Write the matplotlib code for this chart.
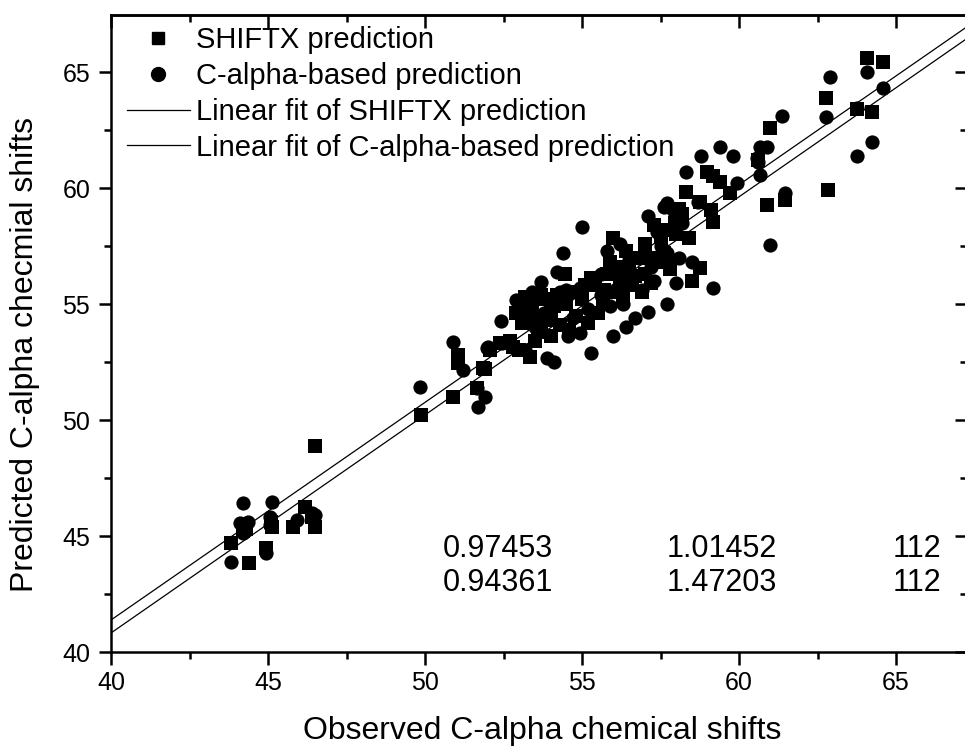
import numpy as np
import matplotlib
matplotlib.use("Agg")
import matplotlib.pyplot as plt
from matplotlib.ticker import MultipleLocator
from matplotlib.lines import Line2D

plt.rcParams['font.family'] = ['Liberation Sans', 'DejaVu Sans']

# SHIFTX prediction (observed, predicted)
shiftx_obs = [43.82, 44.40, 44.94, 45.13, 44.30, 45.80, 46.18, 46.40, 46.50, 46.50, 44.20, 45.10,
              49.87, 50.90, 51.05, 51.05, 51.85, 51.65, 52.07, 52.40, 52.80, 51.90,
              52.90, 53.00, 53.00, 53.35, 53.10, 53.30, 53.50, 53.60, 53.80, 53.90, 54.00, 54.10,
              54.20, 54.30, 54.46, 54.50, 53.20, 53.70, 54.60, 54.80,
              53.40, 53.70, 54.00, 54.30, 53.50, 54.70, 52.70,
              55.00, 55.20, 55.40, 55.50, 55.67, 55.90, 56.00, 56.00, 56.20, 56.30, 56.50, 56.60,
              56.80, 57.00, 57.00, 57.20, 57.40, 57.60, 57.60, 57.80, 57.96, 58.10, 58.30, 58.40,
              58.50, 58.75, 58.76, 58.98, 59.10, 59.17, 59.17, 59.40, 59.70, 58.20, 56.40, 55.80, 57.30,
              55.30, 55.70, 56.10, 56.70, 57.20, 57.50, 58.00, 56.90, 55.10,
              60.60, 60.90, 60.99, 61.46, 62.77, 62.83, 63.76, 64.08, 64.24, 64.58]
shiftx_pred = [44.70, 43.84, 44.50, 45.40, 45.30, 45.40, 46.25, 45.80, 45.40, 48.90, 45.20, 45.60,
               50.20, 51.00, 52.80, 52.46, 52.24, 51.40, 53.00, 53.30, 53.15, 52.20,
               54.60, 55.00, 53.00, 52.70, 54.20, 54.80, 54.50, 53.80, 55.20, 54.30, 53.60, 54.90,
               55.40, 54.10, 56.30, 55.00, 55.30, 54.00, 53.90, 54.50,
               55.10, 55.40, 54.60, 55.00, 53.40, 55.50, 53.40,
               55.20, 54.20, 55.80, 54.60, 55.00, 56.80, 57.85, 55.50, 56.00, 55.20, 56.50, 55.80,
               57.00, 56.30, 57.60, 55.90, 56.80, 58.20, 57.20, 56.50, 58.50, 59.10, 59.83, 57.85,
               56.00, 56.55, 59.40, 60.70, 59.05, 58.53, 60.50, 60.26, 59.80, 58.90, 57.30, 56.30, 58.40,
               56.10, 55.60, 56.60, 56.20, 57.00, 57.90, 58.00, 55.50, 55.80,
               61.20, 59.27, 62.60, 59.50, 63.90, 59.90, 63.40, 65.60, 63.28, 65.43]

# C-alpha-based prediction (observed, predicted)
calpha_obs = [43.82, 44.20, 44.10, 44.36, 44.20, 44.94, 45.13, 45.06, 45.06, 45.92, 46.40, 46.50,
              49.84, 50.90, 51.20, 51.66, 51.90, 51.70, 51.97, 52.42,
              52.45, 52.90, 53.40, 53.70, 54.20, 54.40, 53.90, 54.10, 52.00, 53.20, 53.50, 53.80,
              54.50, 54.55, 54.94, 54.94, 55.00, 55.30, 55.40, 55.80, 56.00, 56.40, 56.70, 57.10,
              57.70, 59.17, 58.00, 56.10, 56.30, 56.60, 56.90, 57.10, 57.40, 57.60, 57.80, 57.70,
              58.10, 58.50, 57.70, 57.90, 58.30, 58.80, 59.40, 59.80, 59.94, 55.20, 55.60, 56.20,
              57.30, 53.10,
              53.00, 53.30, 54.00, 54.30, 54.70, 55.60, 56.20, 56.80, 57.20, 57.50, 58.20, 55.90,
              56.50, 58.70,
              60.57, 60.60, 60.67, 60.67, 60.90, 60.99, 61.37, 61.46, 62.77, 62.90, 63.76, 64.08,
              64.24, 64.58, 63.76]
calpha_pred = [43.88, 46.42, 45.56, 45.60, 45.13, 44.27, 46.47, 45.80, 45.47, 45.70, 46.00, 45.90,
               51.42, 53.36, 52.15, 51.38, 50.99, 50.56, 53.10, 54.27,
               53.30, 55.17, 55.50, 55.95, 56.40, 57.20, 52.67, 52.50, 53.15, 53.00, 54.00, 54.60,
               55.60, 53.60, 53.75, 55.70, 58.30, 52.90, 56.10, 57.30, 53.60, 54.00, 54.40, 54.65,
               55.00, 55.70, 55.90, 56.40, 55.00, 56.20, 55.60, 58.80, 58.10, 59.20, 56.90, 57.20,
               57.00, 56.80, 59.35, 59.05, 60.70, 61.40, 61.77, 61.38, 60.20, 54.80, 55.40, 57.60,
               56.00, 54.40,
               54.80, 54.20, 55.00, 55.50, 54.40, 56.30, 55.60, 57.00, 56.60, 57.50, 58.50, 54.90,
               56.90, 59.40,
               61.30, 61.10, 60.56, 61.77, 61.77, 57.54, 63.10, 59.80, 63.06, 64.80, 61.38, 65.00,
               61.98, 64.30, 63.45]

# linear fits (slope, intercept)
shiftx_fit = (0.938, 3.86)
calpha_fit = (0.940, 3.22)

# fit statistics table (R, SD, N)
stat_r = ['0.97453', '0.94361']
stat_sd = ['1.01452', '1.47203']
stat_n = ['112', '112']

fig = plt.figure(figsize=(9.65, 7.55), dpi=100)
ax = fig.add_axes([111/965, 103/755, 856/965, 637/755])

ax.scatter(shiftx_obs, shiftx_pred, marker='s', s=88, color='black', linewidths=0, zorder=3)
ax.scatter(calpha_obs, calpha_pred, marker='o', s=105, color='black', linewidths=0, zorder=3)

xfit = np.array([40, 68])
ax.plot(xfit, shiftx_fit[0] * xfit + shiftx_fit[1], color='black', lw=0.9, zorder=2)
ax.plot(xfit, calpha_fit[0] * xfit + calpha_fit[1], color='black', lw=0.9, zorder=2)

ax.set_xlim(40, 40 + 856/31.4)
ax.set_ylim(40, 40 + 637/23.2)

for a in (ax.xaxis, ax.yaxis):
    a.set_major_locator(MultipleLocator(5))
    a.set_minor_locator(MultipleLocator(2.5))
ax.tick_params(which='both', width=1.8, labelsize=18, direction='out')
ax.tick_params(which='major', length=9)
ax.tick_params(which='minor', length=5)
ax.tick_params(axis='x', pad=5)
ax.tick_params(axis='y', pad=6)
for s in ax.spines.values():
    s.set_linewidth(1.8)

# top and right axes: ticks pointing inward, no labels
top = ax.secondary_xaxis('top')
right = ax.secondary_yaxis('right')
for sec, a in ((top, top.xaxis), (right, right.yaxis)):
    a.set_major_locator(MultipleLocator(5))
    a.set_minor_locator(MultipleLocator(2.5))
    sec.tick_params(which='both', direction='in', width=1.8, labelsize=0)
    sec.tick_params(which='major', length=9)
    sec.tick_params(which='minor', length=5)
    a.set_major_formatter(plt.NullFormatter())
    sec.spines[:].set_linewidth(1.8)

ax.set_xlabel('Observed C-alpha chemical shifts', fontsize=23)
ax.xaxis.set_label_coords((542 - 111)/856, (652 - 716)/637)
ax.set_ylabel('Predicted C-alpha checmial shifts', fontsize=23)
ax.yaxis.set_label_coords((40 - 111)/856, (652 - 355)/637)

handles = [
    Line2D([], [], marker='s', ls='none', color='black', markersize=8.5),
    Line2D([], [], marker='o', ls='none', color='black', markersize=10),
    Line2D([], [], color='black', lw=0.9),
    Line2D([], [], color='black', lw=0.9),
]
labels = ['SHIFTX prediction', 'C-alpha-based prediction',
          'Linear fit of SHIFTX prediction', 'Linear fit of C-alpha-based prediction']
ax.legend(handles, labels, loc='upper left', bbox_to_anchor=(16/856, (652 - 26)/637), frameon=False,
          fontsize=21, handlelength=2.15, handletextpad=0.2, labelspacing=0.27,
          borderpad=0, borderaxespad=0)

for i in range(2):
    yy = (652 - (549 + 34*i)) / 637
    ax.text((498 - 111)/856, yy, stat_r[i], transform=ax.transAxes, ha='center', va='center', fontsize=22)
    ax.text((722 - 111)/856, yy, stat_sd[i], transform=ax.transAxes, ha='center', va='center', fontsize=22)
    ax.text((941 - 111)/856, yy, stat_n[i], transform=ax.transAxes, ha='right', va='center', fontsize=22)

fig.savefig('out.png', dpi=100)
